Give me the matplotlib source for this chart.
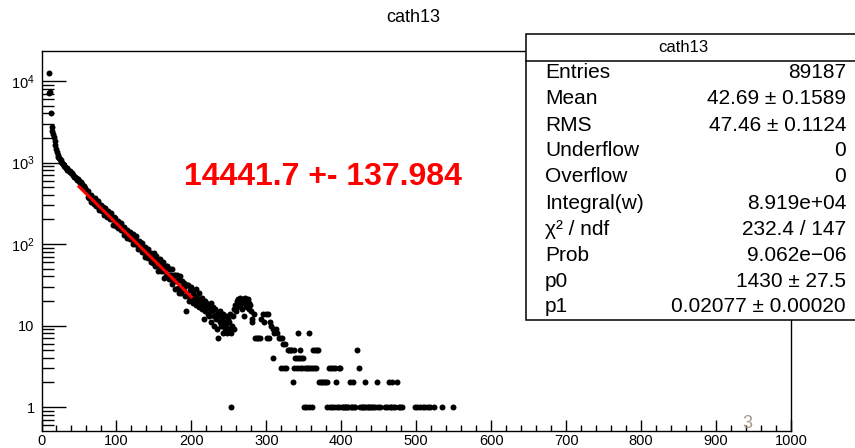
import numpy as np
import matplotlib.pyplot as plt
from matplotlib.patches import Rectangle
from matplotlib.lines import Line2D
from matplotlib.ticker import FixedLocator, FixedFormatter, MultipleLocator, NullFormatter

plt.rcParams['font.family'] = ['Liberation Sans', 'DejaVu Sans']
plt.rcParams['mathtext.fontset'] = 'custom'
plt.rcParams['mathtext.rm'] = 'Liberation Sans'
plt.rcParams['mathtext.it'] = 'Liberation Sans:italic'

hist_name = 'cath13'
nbins = 1000

# bins 9..59 : spike at low channel and the steep start
head_start = 9
head_counts = [7200, 12600, 7400, 4000, 2700, 2450, 2250, 2050, 1850, 1650, 1480,
               1330, 1240, 1170, 1120, 1090, 1060, 1010, 980, 950, 925,
               900, 872, 868, 845, 812, 820, 781, 795, 762, 748,
               742, 705, 712, 668, 672, 640, 648, 611, 628, 590,
               596, 560, 571, 528, 540, 505, 512, 478, 486, 452]

# bins 60..199 : exponential part
mid_start = 60
mid_counts = [444, 374, 442, 367, 390, 330, 399, 345, 369, 310,
              340, 363, 295, 336, 292, 340, 265, 300, 277, 302,
              255, 287, 263, 224, 279, 235, 251, 213, 252, 223,
              233, 201, 241, 201, 207, 173, 212, 181, 207, 168,
              186, 158, 194, 165, 176, 148, 181, 148, 153, 130,
              160, 134, 143, 117, 150, 129, 137, 114, 141, 114,
              120, 132, 101, 117, 101, 125, 101, 110, 87, 108,
              91, 105, 93, 79, 102, 80, 90, 69, 92, 78,
              85, 68, 87, 71, 75, 60, 78, 67, 58, 77,
              65, 53, 71, 56, 64, 47, 64, 54, 65, 47,
              57, 46, 61, 38, 51, 54, 40, 53, 42, 49,
              37, 50, 42, 32, 49, 36, 42, 28, 42, 35,
              42, 29, 36, 25, 40, 30, 25, 35, 27, 33,
              30, 23, 15, 31, 24, 31, 20, 27, 21, 30]

# bins 200..280
bump_start = 200
bump_counts = [23, 26, 19, 24, 21, 28, 18, 22, 20, 25,
               17, 21, 19, 16, 22, 18, 12, 20, 15, 19,
               17, 14, 18, 13, 16, 19, 11, 15, 17, 13,
               10, 16, 12, 14, 9, 7, 13, 11, 15, 10,
               12, 8, 14, 11, 9, 13, 10, 8, 12, 9,
               11, 14, 8, 1, 10, 13, 9, 16, 18, 15,
               20, 17, 21, 19, 22, 18, 20, 16, 21, 19,
               13, 22, 18, 20, 17, 21, 19, 16, 18, 15, 12]

# sparse tail, only non-empty bins
tail_bins = [281, 283, 285, 287, 289, 291, 293, 295, 297, 299,
             301, 302, 303, 304, 306, 308, 309, 310, 312, 314,
             316, 318, 319, 320, 322, 323, 325, 326, 328, 330,
             332, 333, 335, 336, 337, 338, 340, 341, 342, 343,
             344, 345, 346, 347, 349, 350, 351, 353, 354, 355,
             356, 357, 358, 360, 361, 362, 363, 364, 366, 367,
             369, 370, 372, 374, 376, 378, 380, 381, 383, 384,
             386, 387, 388, 390, 391, 393, 394, 396, 397, 398,
             400, 402, 404, 405, 407, 409, 411, 412, 414, 415,
             416, 418, 420, 423, 425, 427, 428, 430, 431, 433,
             435, 437, 438, 440, 442, 444, 447, 449, 451, 458,
             460, 463, 464, 466, 467, 469, 471, 474, 476, 478,
             480, 498, 500, 505, 508, 511, 515, 518, 523, 534, 548]
tail_counts = [11, 14, 7, 7, 7, 7, 12, 14, 11, 14,
               7, 14, 7, 11, 10, 4, 9, 8, 9, 8,
               7, 7, 3, 7, 6, 3, 6, 3, 5, 5,
               5, 5, 2, 5, 3, 4, 4, 3, 8, 4,
               5, 3, 4, 3, 4, 1, 3, 1, 3, 3,
               1, 8, 3, 1, 3, 5, 3, 5, 3, 5,
               5, 2, 2, 2, 2, 2, 2, 1, 3, 1,
               3, 1, 3, 1, 3, 2, 1, 3, 1, 3,
               1, 1, 1, 1, 1, 1, 2, 1, 1, 2,
               1, 1, 5, 3, 1, 1, 1, 1, 2, 1,
               1, 1, 1, 1, 1, 1, 2, 1, 1, 1,
               1, 2, 1, 1, 2, 1, 1, 2, 1, 1,
               1, 1, 1, 1, 1, 1, 1, 1, 1, 1, 1]

# fit p0*exp(-p1*x) over 50..200
fit_p0 = 1430.0
fit_p1 = 0.02077
fit_range = (50, 200)
fit_integral = '14441.7 +- 137.984'

stat_names = ['Entries', 'Mean', 'RMS', 'Underflow', 'Overflow', 'Integral(w)',
              'χ² / ndf', 'Prob', 'p0', 'p1']
stat_values = ['89187', '42.69 ± 0.1589', '47.46 ± 0.1124', '0', '0', '8.919e+04',
               '232.4 / 147', '9.062e−06', '1430 ± 27.5', '0.02077 ± 0.00020']

counts = np.zeros(nbins)
counts[head_start:head_start + len(head_counts)] = head_counts
counts[mid_start:mid_start + len(mid_counts)] = mid_counts
counts[bump_start:bump_start + len(bump_counts)] = bump_counts
counts[tail_bins] = tail_counts
centers = np.arange(nbins) + 0.5
filled = counts > 0

W, H = 855, 448
fig = plt.figure(figsize=(W / 100, H / 100), dpi=100)

def fx(px):
    return px / W

def fy(py):
    return 1 - py / H

left, right, top, bottom = 41.5, 791, 51, 431
ax = fig.add_axes([fx(left), fy(bottom), fx(right) - fx(left), fy(top) - fy(bottom)])

ax.plot(centers[filled], counts[filled], 'o', color='black', markersize=4.3,
        markeredgewidth=0, zorder=2)

xf = np.linspace(fit_range[0], fit_range[1], 200)
ax.plot(xf, fit_p0 * np.exp(-fit_p1 * xf), color='red', linewidth=2.2, zorder=3)

ax.set_yscale('log')
ax.set_xlim(0, 1000)
ax.set_ylim(0.5076, 23350)

ax.xaxis.set_major_locator(MultipleLocator(100))
ax.xaxis.set_minor_locator(MultipleLocator(20))
decades = [1, 10, 100, 1000, 10000]
ax.yaxis.set_major_locator(FixedLocator(decades))
ax.yaxis.set_major_formatter(FixedFormatter(['1', '10', r'$10^{2}$', r'$10^{3}$', r'$10^{4}$']))
minor = [m * d for d in [0.1, 1, 10, 100, 1000] for m in range(2, 10)] + [0.5]
ax.yaxis.set_minor_locator(FixedLocator(minor))
ax.yaxis.set_minor_formatter(NullFormatter())

ax.tick_params(axis='x', which='major', direction='in', length=8, width=1, labelsize=10.5, pad=2)
ax.tick_params(axis='x', which='minor', direction='in', length=4, width=1)
ax.tick_params(axis='y', which='major', direction='in', length=17, width=1, labelsize=10.5, pad=5)
ax.tick_params(axis='y', which='minor', direction='in', length=8.5, width=1)
for s in ax.spines.values():
    s.set_linewidth(1)

fig.text(fx(413), fy(18), hist_name, ha='center', va='center', fontsize=13)

fig.text(fx(323), fy(177), fit_integral, color='red', fontsize=23, fontweight='bold',
         ha='center', va='center')

# stats box, runs past the right edge
box_l, box_t, box_b = 526, 34, 320
fig.patches.append(Rectangle((fx(box_l), fy(box_b)), fx(W + 20) - fx(box_l), fy(box_t) - fy(box_b),
                             transform=fig.transFigure, facecolor='white', edgecolor='black',
                             linewidth=1.1, zorder=5, clip_on=False))
fig.lines.append(Line2D([fx(box_l), 1.01], [fy(61), fy(61)], transform=fig.transFigure,
                        color='black', linewidth=1.1, zorder=6))
fig.text(fx(683), fy(47), hist_name, ha='center', va='center', fontsize=12, zorder=7)
for i, (name, val) in enumerate(zip(stat_names, stat_values)):
    yy = fy(73 + 26 * i)
    fig.text(fx(545), yy, name, ha='left', va='center', fontsize=15, zorder=7)
    fig.text(fx(846), yy, val, ha='right', va='center', fontsize=15, zorder=7)

fig.text(fx(747), fy(423), '3', ha='center', va='center', fontsize=13, color='#a89a86')

plt.savefig('out.png', dpi=100)
plt.close()
